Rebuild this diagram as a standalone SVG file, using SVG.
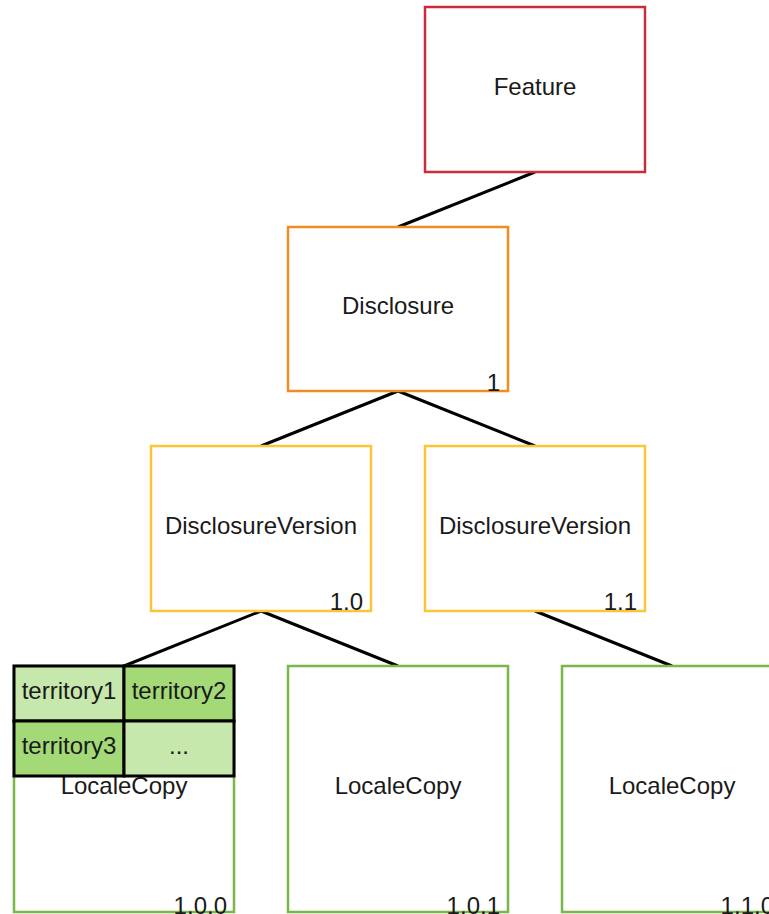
<svg xmlns="http://www.w3.org/2000/svg" width="769" height="914" viewBox="0 0 769 914">
<style>
  .box { fill: #ffffff; stroke-width: 2.5; }
  .red { stroke: #c92d39; }
  .orange { stroke: #ef8d22; }
  .yellow { stroke: #fcc438; }
  .green { stroke: #7ab648; }
  .t { font-family: "Liberation Sans", Arial, sans-serif; font-size: 24px; fill: #1a1a1a; }
  .c { text-anchor: middle; }
  .r { text-anchor: end; }
  .conn line { stroke: #000000; stroke-width: 3; }
  .cell { stroke: #000000; stroke-width: 3; }
  .light { fill: #c7e8ac; }
  .dark { fill: #a3d977; }
</style>
<rect width="769" height="914" fill="#ffffff"/>
<g id="connectors" class="conn">
  <line x1="535" y1="172" x2="398" y2="227"/>
  <line x1="398" y1="391" x2="261" y2="446"/>
  <line x1="398" y1="391" x2="535" y2="446"/>
  <line x1="261" y1="611" x2="124" y2="666"/>
  <line x1="261" y1="611" x2="398" y2="666"/>
  <line x1="535" y1="611" x2="672" y2="666"/>
</g>
<g id="feature">
  <rect class="box red" x="425" y="7" width="220" height="165"/>
  <text class="t c" x="535" y="95">Feature</text>
</g>
<g id="disclosure">
  <rect class="box orange" x="288" y="227" width="220" height="164"/>
  <text class="t c" x="398" y="314">Disclosure</text>
  <text class="t r" x="500" y="391">1</text>
</g>
<g id="version-1-0">
  <rect class="box yellow" x="151" y="446" width="220" height="165"/>
  <text class="t c" x="261" y="534">DisclosureVersion</text>
  <text class="t r" x="363" y="610">1.0</text>
</g>
<g id="version-1-1">
  <rect class="box yellow" x="425" y="446" width="220" height="165"/>
  <text class="t c" x="535" y="534">DisclosureVersion</text>
  <text class="t r" x="637" y="610">1.1</text>
</g>
<g id="localecopy-1-0-0">
  <rect class="box green" x="14" y="666" width="220" height="246"/>
  <text class="t c" x="124" y="794">LocaleCopy</text>
  <text class="t r" x="227" y="914">1.0.0</text>
  <g id="territories">
    <rect class="cell light" x="14" y="666" width="110" height="55"/>
    <rect class="cell dark" x="124" y="666" width="110" height="55"/>
    <rect class="cell dark" x="14" y="721" width="110" height="55"/>
    <rect class="cell light" x="124" y="721" width="110" height="55"/>
    <text class="t c" x="69" y="699">territory1</text>
    <text class="t c" x="179" y="699">territory2</text>
    <text class="t c" x="69" y="754">territory3</text>
    <text class="t c" x="179" y="754">...</text>
  </g>
</g>
<g id="localecopy-1-0-1">
  <rect class="box green" x="288" y="666" width="220" height="246"/>
  <text class="t c" x="398" y="794">LocaleCopy</text>
  <text class="t r" x="500" y="914">1.0.1</text>
</g>
<g id="localecopy-1-1-0">
  <rect class="box green" x="562" y="666" width="220" height="246"/>
  <text class="t c" x="672" y="794">LocaleCopy</text>
  <text class="t r" x="774" y="914">1.1.0</text>
</g>
</svg>
